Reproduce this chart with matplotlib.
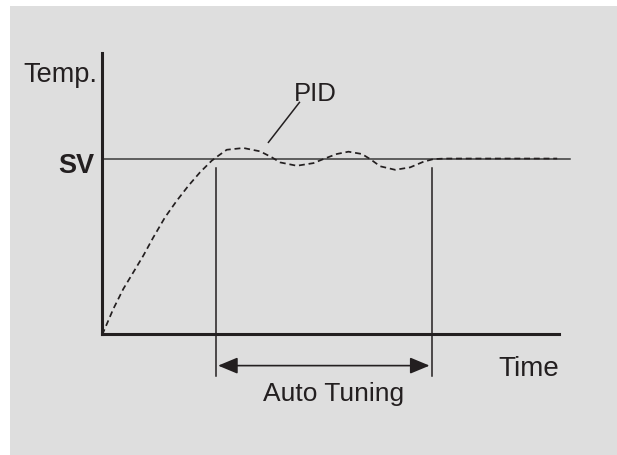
"""PID auto-tuning sketch: temperature response vs time."""

import matplotlib

matplotlib.use("Agg")
from matplotlib import pyplot as plt
from matplotlib.patches import Rectangle

# time (arbitrary units) and temperature response, SV normalised to 1.0
pid_time = [0.0, 0.035, 0.254, 0.473, 0.691, 0.910, 1.129, 1.385, 1.641,
            1.895, 2.151, 2.407, 2.551, 2.735, 3.098, 3.464, 3.720, 3.902,
            4.267, 4.630, 4.886, 5.142, 5.396, 5.689, 5.871, 6.090, 6.418,
            6.746, 7.037, 7.256, 7.51, 9.96]
pid_temp = [0.0, 0.0125, 0.145, 0.259, 0.353, 0.448, 0.552, 0.666, 0.760,
            0.845, 0.922, 0.988, 1.016, 1.050, 1.060, 1.041, 1.007, 0.978,
            0.959, 0.974, 1.001, 1.026, 1.039, 1.026, 0.997, 0.956, 0.936,
            0.950, 0.982, 0.997, 1.0, 1.0]

sv = 1.0
tuning_start = 2.495
tuning_end = 7.22

INK = "#231f20"

fig = plt.figure(figsize=(6.17, 4.56), dpi=100, facecolor="white")
plt.rcParams["font.family"] = ["Liberation Sans", "DejaVu Sans"]

# grey panel with a thin white margin top/left
fig.patches.append(Rectangle((10 / 617, 0), 1, 1 - 7 / 456,
                             transform=fig.transFigure, facecolor="#dedede",
                             edgecolor="none", zorder=-10))

ax = fig.add_axes([0.1648, 0.2643, 0.7412, 0.6173])
ax.set_facecolor("none")
ax.set_xlim(0, 10)
ax.set_ylim(0, 1.6)
ax.set_xticks([])
ax.set_yticks([])
for side in ["top", "right"]:
    ax.spines[side].set_visible(False)
for side in ["left", "bottom"]:
    ax.spines[side].set_linewidth(2.2)
    ax.spines[side].set_color(INK)

# set value line
ax.plot([0, 10.25], [sv, sv], color="#3a3a3a", lw=1.1, clip_on=False)

# PID response
ax.plot(pid_time, pid_temp, color=INK, lw=1.25, linestyle=(0, (3.4, 2.2)),
        clip_on=False)

# auto tuning window
for t in (tuning_start, tuning_end):
    ax.plot([t, t], [0.946, -0.236], color=INK, lw=1.1, clip_on=False)
ax.annotate("", xy=(tuning_end - 0.05, -0.177),
            xytext=(tuning_start + 0.05, -0.177),
            arrowprops=dict(arrowstyle="<|-|>,head_length=1.2,head_width=0.5",
                            color=INK, lw=1.2, shrinkA=0, shrinkB=0),
            annotation_clip=False)

# labels
ax.text(5.07, -0.370, "Auto Tuning", fontsize=19, color=INK,
        ha="center", va="baseline", clip_on=False)
ax.text(8.672, -0.230, "Time", fontsize=20, color=INK,
        ha="left", va="baseline", clip_on=False)
ax.text(-0.10, 1.442, "Temp.", fontsize=19.5, color=INK,
        ha="right", va="baseline", clip_on=False)
ax.text(-0.15, 0.925, "SV", fontsize=19.5, fontweight="bold", color=INK,
        ha="right", va="baseline", clip_on=False)
ax.text(4.208, 1.332, "PID", fontsize=18.5, color=INK,
        ha="left", va="baseline", clip_on=False)
ax.plot([4.324, 3.646], [1.319, 1.092], color=INK, lw=1.1, clip_on=False)

fig.savefig("out.png", dpi=100, facecolor=fig.get_facecolor())
